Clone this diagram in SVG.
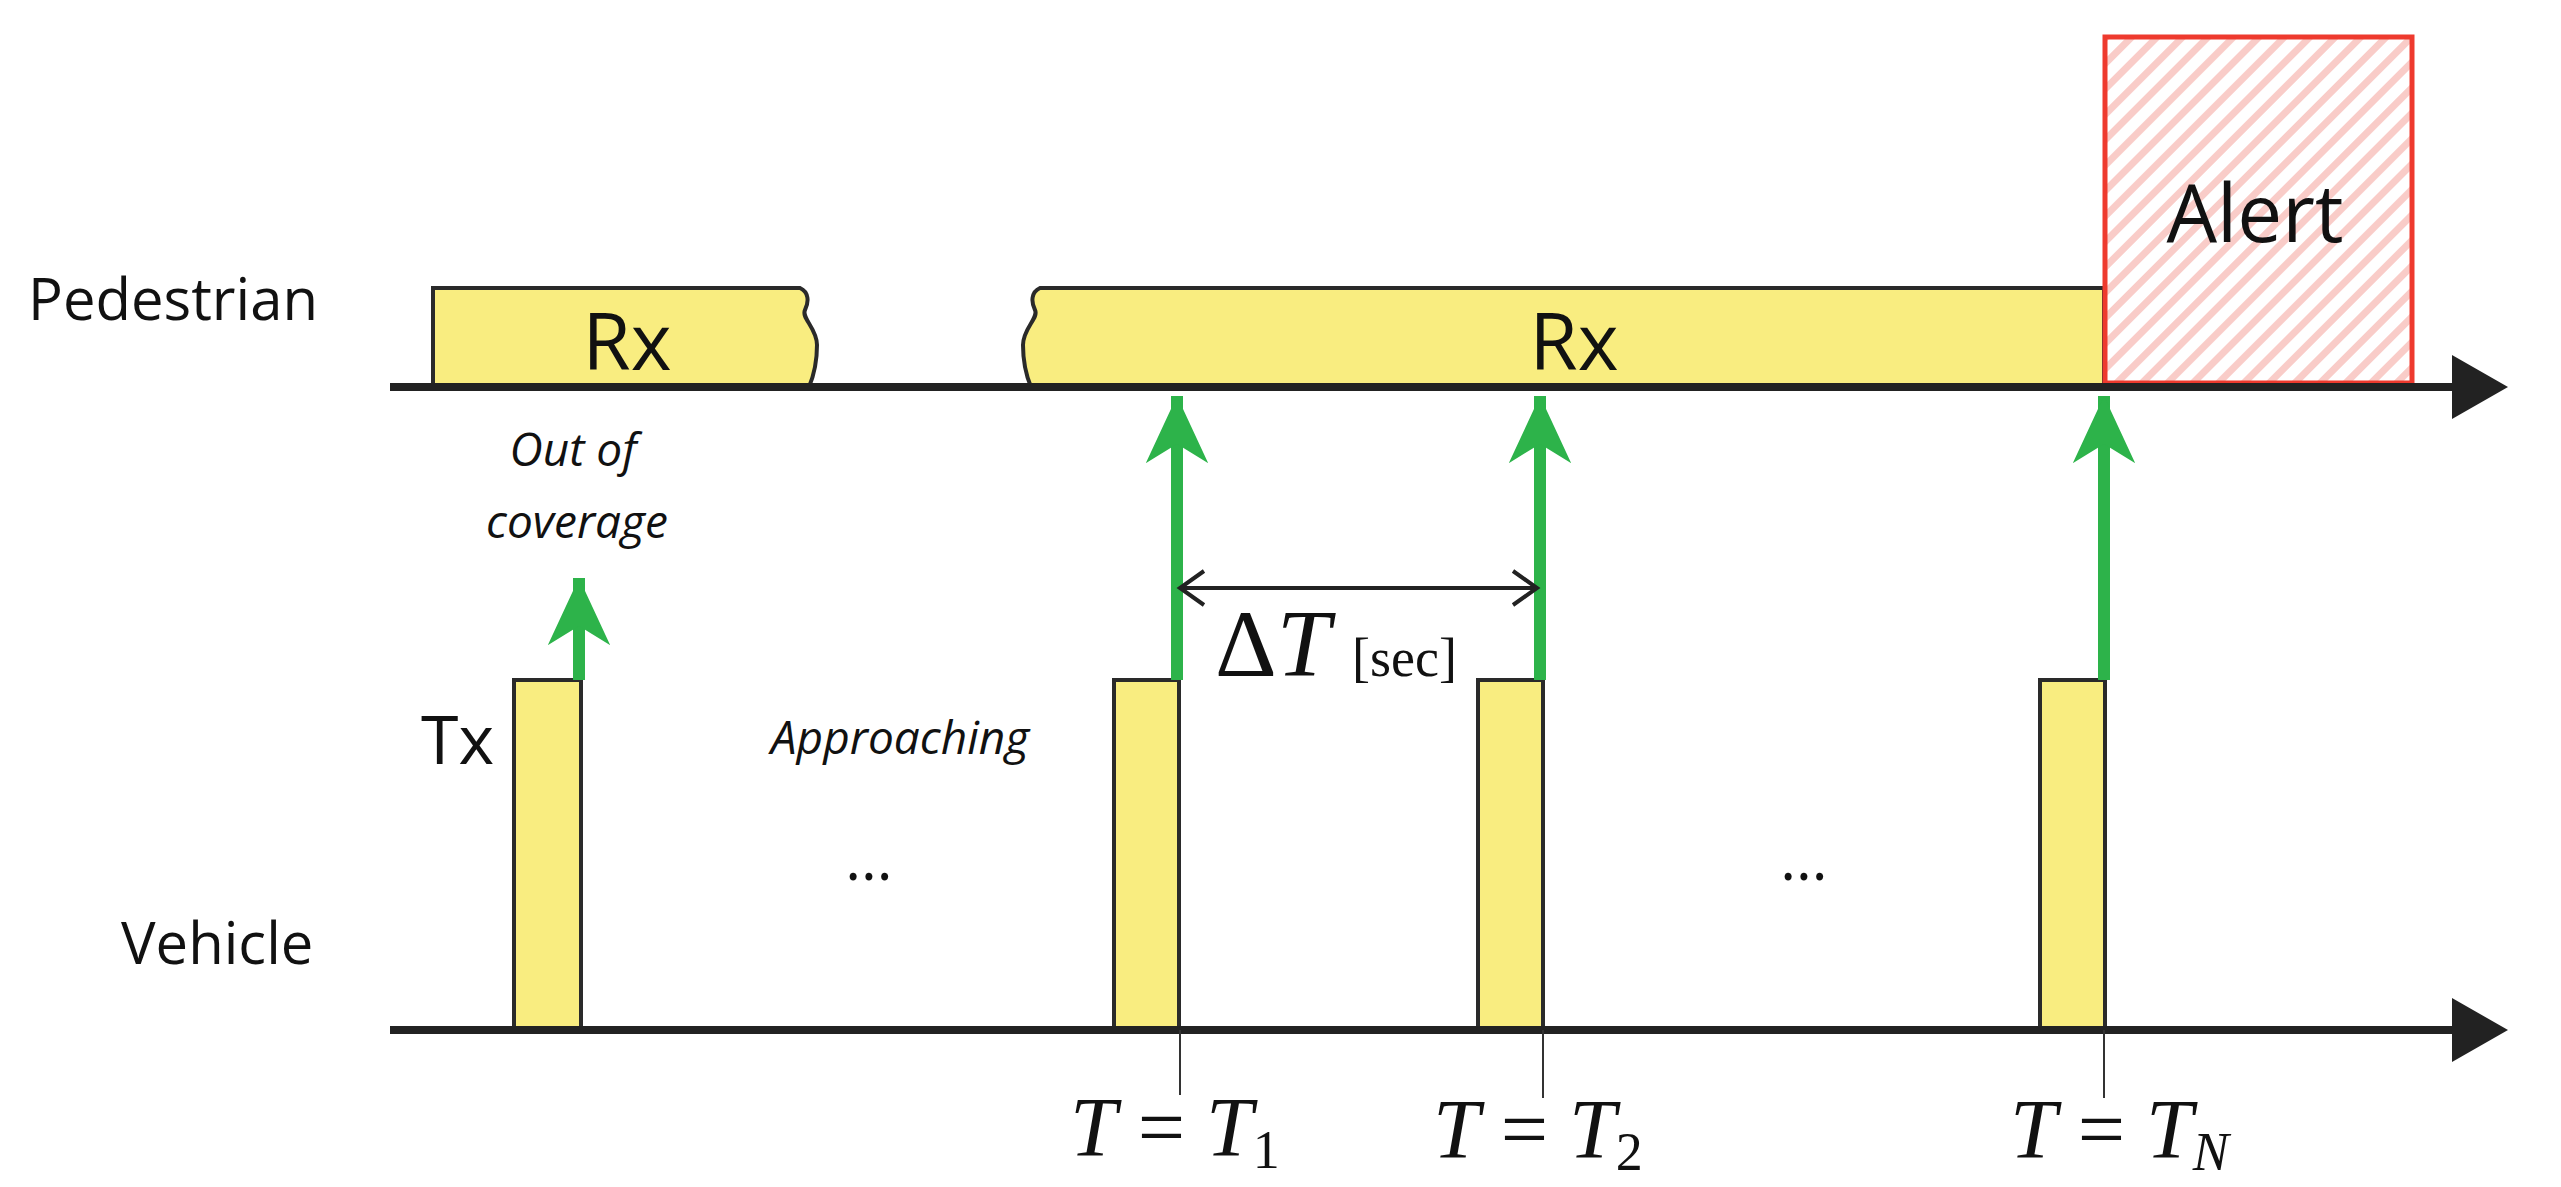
<svg xmlns="http://www.w3.org/2000/svg" width="2561" height="1187" viewBox="0 0 2561 1187">
<style>
.box{fill:#F9ED80;stroke:#2a2a2a;stroke-width:4}
.axis{stroke:#222;stroke-width:8;fill:none}
.g{stroke:#2DB34A;stroke-width:12;fill:none}
.lbl{font-family:"Open Sans","Liberation Sans",sans-serif;fill:#111}
.it{font-family:"Open Sans","Liberation Sans",sans-serif;font-style:italic;fill:#111}
.m{font-family:"Liberation Serif",serif;fill:#111}
.tick{stroke:#333;stroke-width:2}
</style>
<defs>
<marker id="ah" markerWidth="8" markerHeight="8" refX="6" refY="4" orient="auto" markerUnits="strokeWidth"><path d="M0,0 L7,4 L0,8 Z" fill="#222"/></marker>
<marker id="gh" markerWidth="6" markerHeight="6" refX="5.6" refY="2.6" orient="auto" markerUnits="strokeWidth"><path d="M0,0 L5.6,2.6 L0,5.2 L1.6,2.6 Z" fill="#2DB34A"/></marker>
<marker id="da" markerWidth="30" markerHeight="40" refX="26" refY="20" orient="auto-start-reverse" markerUnits="userSpaceOnUse"><path d="M2,3 L26,20 L2,37" fill="none" stroke="#222" stroke-width="4"/></marker>
<pattern id="hatch" patternUnits="userSpaceOnUse" width="18" height="18" patternTransform="rotate(45)"><rect width="18" height="18" fill="#fff"/><rect width="7" height="18" fill="#F9CCC8"/></pattern>
</defs>
<g id="labels">
<text class="lbl" x="28" y="320" font-size="58">Pedestrian</text>
<text class="lbl" x="121" y="964" font-size="58">Vehicle</text>
<text class="it" x="573" y="466" font-size="46" text-anchor="middle">Out of</text>
<text class="it" x="577" y="538" font-size="46" text-anchor="middle">coverage</text>
<text class="it" x="900" y="754" font-size="46" text-anchor="middle">Approaching</text>
<text class="lbl" x="869" y="880" font-size="60" text-anchor="middle">...</text>
<text class="lbl" x="1804" y="880" font-size="60" text-anchor="middle">...</text>
</g>
<g id="rx1"><path class="box" d="M433,387 V288 H800 c9,4 9,14 5,22 c-4,8 12,18 12,35 c0,16 -3,30 -8,42 Z"/><text class="lbl" x="627" y="370" font-size="78" text-anchor="middle">Rx</text></g>
<g id="rx2"><path class="box" d="M2104,387 V288 H1040 c-9,4 -9,14 -5,22 c4,8 -12,18 -12,35 c0,16 3,30 8,42 Z"/><text class="lbl" x="1574" y="370" font-size="78" text-anchor="middle">Rx</text></g>
<g id="alert"><rect x="2105" y="37" width="307" height="346" fill="url(#hatch)" stroke="#EE3A2E" stroke-width="5"/><text class="lbl" x="2255" y="242" font-size="80" text-anchor="middle">Alert</text></g>
<g id="tx0"><rect class="box" x="514" y="680" width="67" height="350"/><text class="lbl" x="421" y="764" font-size="68">Tx</text></g>
<g id="tx1"><rect class="box" x="1114" y="680" width="65" height="350"/></g>
<g id="tx2"><rect class="box" x="1478" y="680" width="65" height="350"/></g>
<g id="txn"><rect class="box" x="2040" y="680" width="65" height="350"/></g>
<g id="connectors">
<line class="axis" x1="390" y1="387" x2="2500" y2="387" marker-end="url(#ah)"/>
<line class="axis" x1="390" y1="1030" x2="2500" y2="1030" marker-end="url(#ah)"/>
<line class="g" x1="579" y1="680" x2="579" y2="578" marker-end="url(#gh)"/>
<line class="g" x1="1177" y1="680" x2="1177" y2="396" marker-end="url(#gh)"/>
<line class="g" x1="1540" y1="680" x2="1540" y2="396" marker-end="url(#gh)"/>
<line class="g" x1="2104" y1="680" x2="2104" y2="396" marker-end="url(#gh)"/>
<line x1="1180" y1="588" x2="1537" y2="588" stroke="#222" stroke-width="4" marker-start="url(#da)" marker-end="url(#da)"/>
<line class="tick" x1="1180" y1="1030" x2="1180" y2="1095"/>
<line class="tick" x1="1543" y1="1030" x2="1543" y2="1098"/>
<line class="tick" x1="2104" y1="1030" x2="2104" y2="1098"/>
</g>
<g id="math">
<text class="m" x="1215" y="676" font-size="96">Δ<tspan font-style="italic">T</tspan></text>
<text class="m" x="1352" y="676" font-size="54">[sec]</text>
<text class="m" x="1070" y="1156" font-size="84"><tspan font-style="italic">T</tspan> = <tspan font-style="italic">T</tspan><tspan font-size="54" dy="12">1</tspan></text>
<text class="m" x="1433" y="1158" font-size="84"><tspan font-style="italic">T</tspan> = <tspan font-style="italic">T</tspan><tspan font-size="54" dy="12">2</tspan></text>
<text class="m" x="2010" y="1158" font-size="84"><tspan font-style="italic">T</tspan> = <tspan font-style="italic">T</tspan><tspan font-size="54" font-style="italic" dy="12">N</tspan></text>
</g>
</svg>
